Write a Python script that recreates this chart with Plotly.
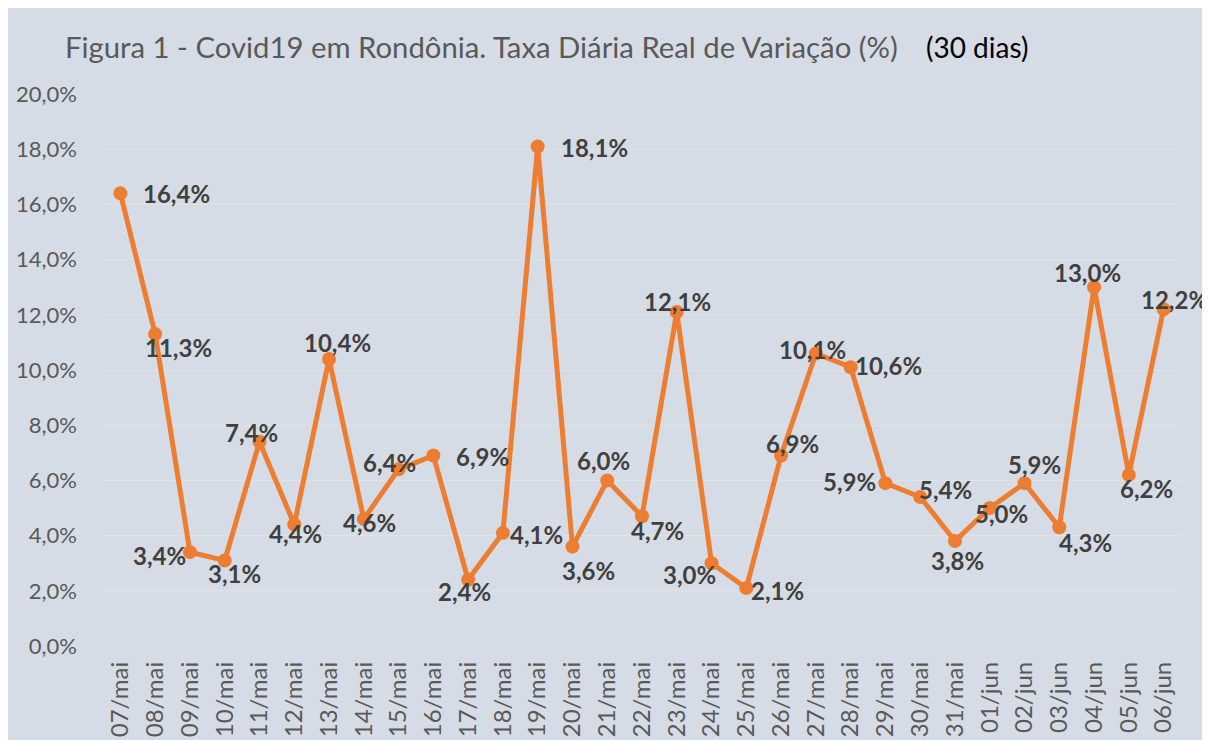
import plotly.graph_objects as go

dates = ["07/mai", "08/mai", "09/mai", "10/mai", "11/mai", "12/mai", "13/mai", "14/mai",
         "15/mai", "16/mai", "17/mai", "18/mai", "19/mai", "20/mai", "21/mai", "22/mai",
         "23/mai", "24/mai", "25/mai", "26/mai", "27/mai", "28/mai", "29/mai", "30/mai",
         "31/mai", "01/jun", "02/jun", "03/jun", "04/jun", "05/jun", "06/jun"]
taxa = [16.4, 11.3, 3.4, 3.1, 7.4, 4.4, 10.4, 4.6, 6.4, 6.9, 2.4, 4.1, 18.1, 3.6, 6.0, 4.7,
        12.1, 3.0, 2.1, 6.9, 10.6, 10.1, 5.9, 5.4, 3.8, 5.0, 5.9, 4.3, 13.0, 6.2, 12.2]
y_ticks = [0, 2, 4, 6, 8, 10, 12, 14, 16, 18, 20]
y_tick_text = ["0,0%", "2,0%", "4,0%", "6,0%", "8,0%", "10,0%", "12,0%", "14,0%",
               "16,0%", "18,0%", "20,0%"]

# label offsets in screen pixels (dx right, dy down)
label_offsets = [(56, 0), (23, 13), (-30, 3), (10, 13), (-8, -9), (1, 9), (8, -16), (6, 3),
                 (-9, -7), (49, 1), (-4, 12), (34, 2), (57, 1), (16, 24), (-4, -20), (15, 14),
                 (1, -11), (-22, 11), (31, 2), (11, -12), (73, 12), (-38, -18), (-36, -2),
                 (25, -7), (3, 19), (12, 5), (10, -19), (26, 15), (-7, -15), (18, 14), (11, -10)]

BG = "#D6DCE5"
ORANGE = "#ED7D31"
FONT = "Lato"

fig = go.Figure()
fig.add_trace(go.Scatter(
    x=dates, y=taxa, mode="lines+markers",
    line=dict(color=ORANGE, width=5),
    marker=dict(color=ORANGE, size=14),
    hoverinfo="x+y", showlegend=False,
))

annotations = []
for d, v, (dx, dy) in zip(dates, taxa, label_offsets):
    annotations.append(dict(
        x=d, y=v, xref="x", yref="y", showarrow=False,
        text=f"{v:.1f}%".replace(".", ","),
        xshift=dx, yshift=-dy,
        font=dict(family=FONT, size=24, color="#404040", weight="bold"),
    ))

# page body has an 8px margin; figure extends past the window edge on the right
W, H = 1210, 732
OFF = 8
ml, mr, mt, mb = 95, 37, 86, 94
pw, ph = W - ml - mr, H - mt - mb

def px(xs):  # screen x -> paper
    return (xs - OFF - ml) / pw

def py(ys):  # screen y -> paper
    return (H - mb - (ys - OFF)) / ph

annotations.append(dict(
    x=px(63), y=py(47), xref="paper", yref="paper", xanchor="left", yanchor="middle",
    showarrow=False, text="Figura 1 - Covid19 em Rondônia. Taxa Diária Real de Variação (%)",
    font=dict(family=FONT, size=29.3, color="#595959"),
))
annotations.append(dict(
    x=px(924), y=py(47), xref="paper", yref="paper", xanchor="left", yanchor="middle",
    showarrow=False, text="(30 dias)",
    font=dict(family=FONT, size=28, color="#000000"),
))

fig.update_layout(
    width=W, height=H,
    margin=dict(l=ml, r=mr, t=mt, b=mb, autoexpand=False),
    paper_bgcolor=BG, plot_bgcolor=BG,
    annotations=annotations,
    font=dict(family=FONT, color="#595959"),
    xaxis=dict(
        type="category", range=[-0.5, len(dates) - 0.5],
        showgrid=False, zeroline=False, showline=False, ticks="",
        tickangle=-90, tickfont=dict(family=FONT, size=24, color="#595959"),
        automargin=False, ticklabelstandoff=10,
    ),
    yaxis=dict(
        range=[0, 20], tickvals=y_ticks, ticktext=y_tick_text,
        showgrid=True, gridcolor="#E3E2E0", gridwidth=1, zeroline=False, showline=False,
        ticks="", tickfont=dict(family=FONT, size=22, color="#595959"),
        automargin=False, ticklabelstandoff=25,
    ),
)

fig.write_html("out.html")
